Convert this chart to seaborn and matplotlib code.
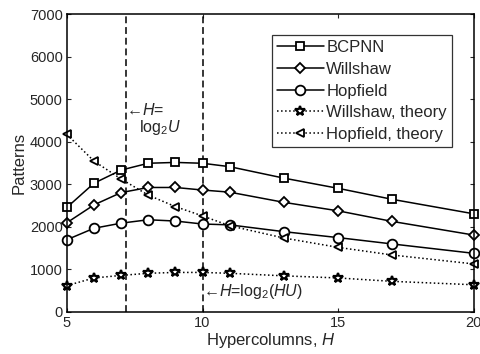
import matplotlib
matplotlib.use("Agg")
import matplotlib.pyplot as plt
import numpy as np
import pandas as pd
import seaborn as sns

# Hypercolumns H
H = [5, 6, 7, 8, 9, 10, 11, 13, 15, 17, 20]

bcpnn = [2450, 3020, 3330, 3490, 3510, 3490, 3410, 3140, 2900, 2640, 2300]
willshaw = [2090, 2510, 2800, 2920, 2920, 2860, 2810, 2570, 2370, 2120, 1800]
hopfield = [1690, 1960, 2080, 2160, 2130, 2060, 2040, 1880, 1740, 1590, 1370]
willshaw_theory = [610, 790, 850, 900, 920, 920, 900, 840, 790, 710, 630]
hopfield_theory = [4170, 3540, 3120, 2740, 2470, 2250, 2020, 1730, 1510, 1330, 1120]

series_names = ["BCPNN", "Willshaw", "Hopfield", "Willshaw, theory", "Hopfield, theory"]
series_values = [bcpnn, willshaw, hopfield, willshaw_theory, hopfield_theory]
markers = ["s", "D", "o", "*", "<"]
linestyles = ["-", "-", "-", ":", ":"]
marker_sizes = [6, 5, 7, 7, 6]

vlines = [7.17, 10]

sns.set_style("ticks")
plt.rcParams["font.family"] = ["Liberation Sans", "DejaVu Sans"]
plt.rcParams["mathtext.fontset"] = "custom"
plt.rcParams["mathtext.rm"] = "Liberation Sans"
plt.rcParams["mathtext.it"] = "Liberation Sans:italic"

fig = plt.figure(figsize=(4.81, 3.54), dpi=100)
ax = fig.add_axes([0.139, 0.12, 0.846, 0.84])

handles = []
for name, vals, mk, ls, ms in zip(series_names, series_values, markers, linestyles, marker_sizes):
    df = pd.DataFrame({"H": H, "Patterns": vals})
    sns.lineplot(data=df, x="H", y="Patterns", ax=ax, color="black", linewidth=1.1,
                 linestyle=ls, marker=mk, markersize=ms, markeredgecolor="black",
                 markerfacecolor="white", markeredgewidth=1.6 if mk == "*" else 1.3,
                 label=name, clip_on=False)
    handles.append(ax.lines[-1])

for xv in vlines:
    ax.axvline(xv, color="black", linestyle="--", linewidth=1.1, dashes=(4.5, 2.5), zorder=1)

ax.text(7.17, 4740, "\u2190$\\it{H}$=", fontsize=11.5, ha="left", va="center")
ax.text(7.65, 4330, "log$_2$$\\it{U}$", fontsize=11.5, ha="left", va="center")
ax.text(10, 470, "\u2190$\\it{H}$=log$_2$($\\it{HU}$)", fontsize=11.5, ha="left", va="center")

ax.set_xlim(5, 20)
ax.set_ylim(0, 7000)
ax.set_xticks([5, 10, 15, 20])
ax.set_yticks(np.arange(0, 7001, 1000))
ax.tick_params(direction="in", top=True, right=True, labelsize=10.5, length=3, width=0.8, pad=3)
for s in ax.spines.values():
    s.set_linewidth(1.1)
    s.set_color("black")
ax.set_xlabel(r"Hypercolumns, $\it{H}$", fontsize=12, labelpad=1)
ax.set_ylabel("Patterns", fontsize=12, labelpad=2)

leg = ax.legend(handles=handles, labels=series_names, loc="upper right",
                bbox_to_anchor=(0.946, 0.929), fontsize=12, frameon=True, fancybox=False,
                edgecolor="black", handlelength=2.8, handletextpad=0.15,
                borderpad=0.3, labelspacing=0.4, borderaxespad=0)
leg.get_frame().set_linewidth(0.9)

fig.savefig("out.png", dpi=100)
